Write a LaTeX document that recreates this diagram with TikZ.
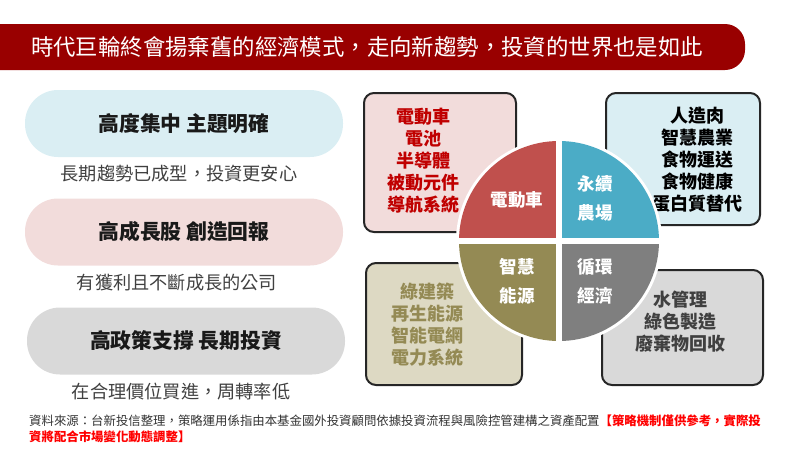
\documentclass[tikz,border=0pt]{standalone}
\usepackage{fontspec}
\setmainfont{Noto Sans CJK TC}
\definecolor{titlered}{HTML}{990000}
\definecolor{pillblue}{HTML}{DAEEF3}
\definecolor{pillpink}{HTML}{F2DCDB}
\definecolor{pillgray}{HTML}{D9D9D9}
\definecolor{boxtan}{HTML}{DDD9C3}
\definecolor{qred}{HTML}{C0504D}
\definecolor{qblue}{HTML}{4BACC6}
\definecolor{qolive}{HTML}{948A54}
\definecolor{qgray}{HTML}{7F7F7F}
\definecolor{redtxt}{HTML}{C00000}
\definecolor{darktxt}{HTML}{404040}
\definecolor{foottxt}{HTML}{333333}
\definecolor{footred}{HTML}{FF0000}
\begin{document}
\begin{tikzpicture}[x=1pt,y=-1pt,
  pill/.style={inner sep=0pt, rounded corners=33pt, minimum width=318pt, minimum height=67pt,
    font=\fontsize{20.8}{22}\selectfont\bfseries, text=black!90},
  subtxt/.style={inner sep=0pt, font=\fontsize{18.2}{20}\selectfont, text=darktxt},
  boxx/.style={draw=black!85, line width=2pt, rounded corners=10pt, inner sep=0pt},
  boxtxt/.style={inner sep=0pt, align=center, font=\fontsize{18}{22}\selectfont\bfseries},
  qtxt/.style={inner sep=0pt, align=center, text=white, font=\fontsize{17.5}{29}\selectfont\bfseries}]
\useasboundingbox (0,0) rectangle (800,450);
% title bar
\fill[titlered, rounded corners=20pt] (-30,24) rectangle (745,70);
\node[inner sep=0pt, text=white, font=\fontsize{22.4}{24}\selectfont] (title) at (367,47) {時代巨輪終會揚棄舊的經濟模式，走向新趨勢，投資的世界也是如此};
% left pills
\node[pill, fill=pillblue] (p1) at (184,123.5) {高度集中 主題明確};
\node[subtxt] (s1) at (179,174) {長期趨勢已成型，投資更安心};
\node[pill, fill=pillpink] (p2) at (184,232) {高成長股 創造回報};
\node[subtxt] (s2) at (177,283) {有獲利且不斷成長的公司};
\node[pill, fill=pillgray] (p3) at (186,341) {高政策支撐 長期投資};
\node[subtxt] (s3) at (181,392) {在合理價位買進，周轉率低};
% right boxes
\node[boxx, fill=pillpink, minimum width=152pt, minimum height=139pt] (b1) at (440,162.5) {};
\node[boxx, fill=pillblue, minimum width=154pt, minimum height=132pt] (b2) at (683,159) {};
\node[boxx, fill=boxtan, minimum width=156pt, minimum height=122pt] (b3) at (444,324) {};
\node[boxx, fill=pillgray, minimum width=161pt, minimum height=115pt] (b4) at (682.5,327.5) {};
\node[boxtxt, text=redtxt] (t1) at (423,161) {電動車\\電池\\半導體\\被動元件\\導航系統};
\node[boxtxt, text=black] (t2) at (697,159.5) {人造肉\\智慧農業\\食物運送\\食物健康\\蛋白質替代};
\node[boxtxt, text=qolive] (t3) at (427,324.5) {綠建築\\再生能源\\智能電網\\電力系統};
\node[boxtxt, text=darktxt] (t4) at (680,321.5) {水管理\\綠色製造\\廢棄物回收};
% circle
\coordinate (c) at (559,241);
\fill[white] (c) circle (103pt);
\begin{scope}\clip (459,141) rectangle (559,241); \fill[qred] (c) circle (100pt);\end{scope}
\begin{scope}\clip (559,141) rectangle (659,241); \fill[qblue] (c) circle (100pt);\end{scope}
\begin{scope}\clip (459,241) rectangle (559,341); \fill[qolive] (c) circle (100pt);\end{scope}
\begin{scope}\clip (559,241) rectangle (659,341); \fill[qgray] (c) circle (100pt);\end{scope}
\draw[white, line width=6pt] (455,241) -- (663,241);
\draw[white, line width=6pt] (559,137) -- (559,345);
\node[qtxt] (q1) at (517,200) {電動車};
\node[qtxt] (q2) at (595,198.5) {永續\\農場};
\node[qtxt] (q3) at (517,281.5) {智慧\\能源};
\node[qtxt] (q4) at (595,281.5) {循環\\經濟};
% footer
\node[inner sep=0pt, anchor=west, align=left, text=foottxt, font=\fontsize{12.4}{16}\selectfont] (foot) at (29,429)
 {資料來源：台新投信整理，策略運用係指由本基金國外投資顧問依據投資流程與風險控管建構之資產配置\textcolor{footred}{\bfseries 【策略機制僅供參考，實際投}\\\textcolor{footred}{\bfseries 資將配合市場變化動態調整】}};
\end{tikzpicture}
\end{document}
